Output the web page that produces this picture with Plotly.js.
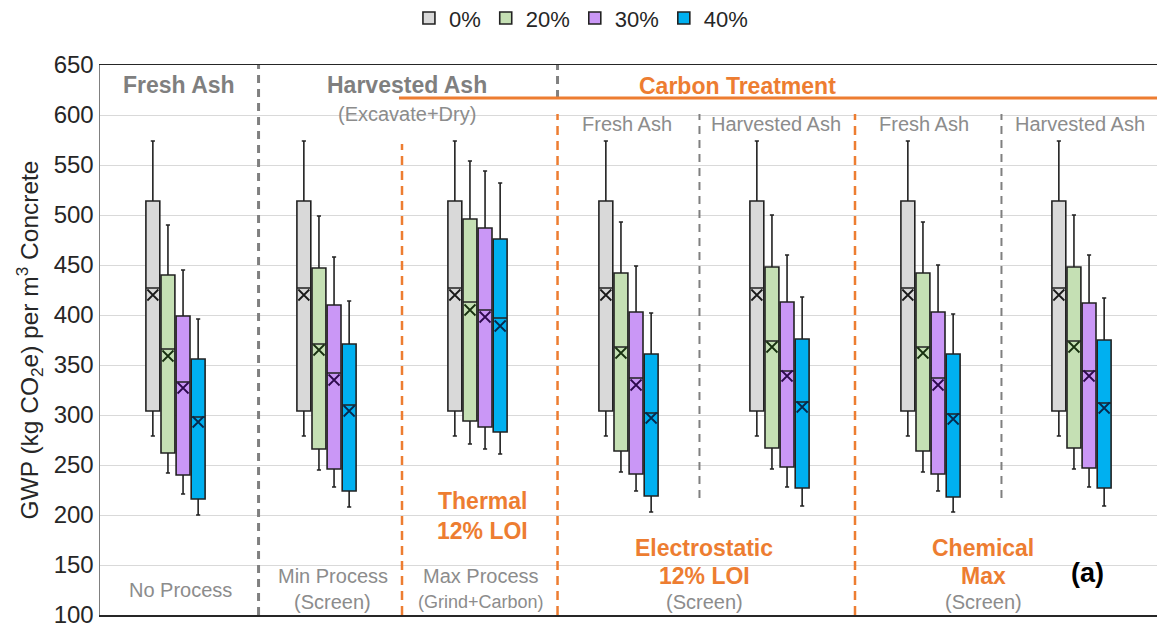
<!DOCTYPE html>
<html>
<head>
<meta charset="utf-8">
<script src="https://cdn.plot.ly/plotly-3.0.1.min.js"></script>
<style>
  html, body { margin: 0; padding: 0; background: #fff; }
  #chart { width: 1160px; height: 625px; }
</style>
</head>
<body>
<div id="chart"></div>
<script>
// ---- Data ----
const groups = ['Fresh Ash / No Process', 'Harvested / Min Process', 'Thermal 12% LOI',
                'Electrostatic Fresh', 'Electrostatic Harvested', 'Chemical Fresh', 'Chemical Harvested'];
const series = ['0%', '20%', '30%', '40%'];

const upper_0  = [574, 574, 574, 574, 574, 574, 574];
const q3_0     = [514, 514, 514, 514, 514, 514, 514];
const median_0 = [427, 427, 427, 427, 427, 427, 427];
const mean_0   = [420, 420, 420, 420, 420, 420, 420];
const q1_0     = [304, 304, 304, 304, 304, 304, 304];
const lower_0  = [279, 279, 279, 279, 279, 279, 279];

const upper_20  = [490, 499, 554, 493, 500, 493, 500];
const q3_20     = [440, 447, 496, 442, 448, 442, 448];
const median_20 = [366, 371, 413, 368, 374, 368, 374];
const mean_20   = [359, 365, 405, 362, 368, 362, 368];
const q1_20     = [262, 266, 294, 264, 267, 264, 267];
const lower_20  = [242, 245, 271, 243, 246, 243, 246];

const upper_30  = [445, 458, 544, 449, 460, 450, 460];
const q3_30     = [399, 410, 487, 403, 413, 403, 412];
const median_30 = [333, 342, 405, 337, 344, 337, 344];
const mean_30   = [327, 335, 398, 330, 339, 330, 339];
const q1_30     = [240, 246, 288, 241, 248, 241, 247];
const lower_30  = [221, 228, 266, 224, 228, 224, 228];

const upper_40  = [396, 414, 532, 402, 418, 401, 417];
const q3_40     = [356, 371, 476, 361, 376, 361, 375];
const median_40 = [298, 310, 397, 302, 313, 301, 312];
const mean_40   = [293, 304, 389, 297, 308, 296, 307];
const q1_40     = [216, 224, 283, 219, 227, 218, 227];
const lower_40  = [200, 208, 261, 203, 209, 203, 209];

const stats = [
  {upper: upper_0,  q3: q3_0,  median: median_0,  mean: mean_0,  q1: q1_0,  lower: lower_0},
  {upper: upper_20, q3: q3_20, median: median_20, mean: mean_20, q1: q1_20, lower: lower_20},
  {upper: upper_30, q3: q3_30, median: median_30, mean: mean_30, q1: q1_30, lower: lower_30},
  {upper: upper_40, q3: q3_40, median: median_40, mean: mean_40, q1: q1_40, lower: lower_40}
];

// ---- Styling ----
const fills = ['#D9D9D9', '#C5E0B4', '#CA97F6', '#00B0F0'];
const xColors = ['#1A1A1A', '#17300F', '#2E0A4E', '#062A4E'];
const outline = '#222222';
const orange = '#ED7D31';
const grayText = '#7F7F7F';
const lightText = '#8C8C8C';
const FONT = 'Liberation Sans, Arial, sans-serif';

const slot = 0.1;
const boxW = 0.092;

const traces = [];
series.forEach((name, s) => {
  const xs = groups.map((g, i) => i + (s - 1.5) * slot);
  const st = stats[s];
  traces.push({
    type: 'box',
    name: name,
    x: xs,
    q1: st.q1, median: st.median, q3: st.q3,
    lowerfence: st.lower, upperfence: st.upper,
    width: boxW,
    whiskerwidth: 0.3,
    fillcolor: fills[s],
    line: {color: outline, width: 1.6},
    boxpoints: false,
    hoverinfo: 'skip'
  });
});
series.forEach((name, s) => {
  const xs = groups.map((g, i) => i + (s - 1.5) * slot);
  traces.push({
    type: 'scatter',
    mode: 'markers',
    x: xs,
    y: stats[s].mean,
    showlegend: false,
    hoverinfo: 'skip',
    marker: {symbol: 'x-thin-open', size: 11, color: xColors[s],
             line: {color: xColors[s], width: 1.8}}
  });
});

function vline(x, y0, y1, color, width, dash) {
  return {type: 'line', xref: 'x', yref: 'y', x0: x, x1: x, y0: y0, y1: y1,
          line: {color: color, width: width, dash: dash || 'dash'}};
}
const shapes = [
  vline(0.55, 100, 650, '#808080', 3, '8px,6px'),
  vline(2.53, 617, 650, '#808080', 3, '8px,6px'),
  vline(1.5, 100, 571, orange, 2.5, '9px,6px'),
  vline(2.53, 100, 601, orange, 2.5, '9px,6px'),
  vline(4.5, 100, 601, orange, 2.5, '9px,6px'),
  vline(3.47, 217, 601, '#808080', 2, '8px,6px'),
  vline(5.47, 217, 601, '#808080', 2, '8px,6px'),
  {type: 'line', xref: 'x', yref: 'y', x0: 1.48, x1: 6.5, y0: 617, y1: 617,
   line: {color: orange, width: 3}}
];

function ann(text, x, y, size, color, bold) {
  return {text: bold ? '<b>' + text + '</b>' : text, x: x, y: y, xref: 'x', yref: 'y',
          showarrow: false, xanchor: 'center', yanchor: 'middle',
          font: {family: FONT, size: size, color: color}};
}
const annotations = [
  ann('Fresh Ash', 0.02, 630, 23, grayText, true),
  ann('Harvested Ash', 1.53, 630, 23, grayText, true),
  ann('(Excavate+Dry)', 1.53, 601, 20, lightText, false),
  ann('Carbon Treatment', 3.72, 629, 23, orange, true),
  ann('Fresh Ash', 2.99, 591, 20, lightText, false),
  ann('Harvested Ash', 3.98, 591, 20, lightText, false),
  ann('Fresh Ash', 4.96, 591, 20, lightText, false),
  ann('Harvested Ash', 5.99, 591, 20, lightText, false),
  ann('Thermal', 2.03, 214, 23, orange, true),
  ann('12% LOI', 2.03, 184, 23, orange, true),
  ann('No Process', 0.03, 125, 20, lightText, false),
  ann('Min Process', 1.04, 139, 20, lightText, false),
  ann('(Screen)', 1.04, 113, 20, lightText, false),
  ann('Max Process', 2.02, 139, 20, lightText, false),
  ann('(Grind+Carbon)', 2.02, 113, 18, lightText, false),
  ann('Electrostatic', 3.5, 167, 23, orange, true),
  ann('12% LOI', 3.5, 139, 23, orange, true),
  ann('(Screen)', 3.5, 113, 20, lightText, false),
  ann('Chemical', 5.35, 167, 23, orange, true),
  ann('Max', 5.35, 139, 23, orange, true),
  ann('(Screen)', 5.35, 113, 20, lightText, false),
  ann('(a)', 6.04, 142, 27, '#000000', true)
];

const layout = {
  width: 1160, height: 625,
  margin: {l: 100, r: 3, t: 65, b: 10, autoexpand: false},
  paper_bgcolor: '#ffffff', plot_bgcolor: '#ffffff',
  font: {family: FONT, color: '#262626'},
  boxmode: 'overlay',
  showlegend: true,
  legend: {orientation: 'h', x: 0.455, xanchor: 'center', y: 1.085, yanchor: 'middle',
           font: {size: 22, color: '#262626'}, itemwidth: 30, tracegroupgap: 0,
           bgcolor: 'rgba(0,0,0,0)'},
  xaxis: {range: [-0.5, 6.5], showticklabels: false, showgrid: false, zeroline: false,
          ticks: '', showline: true, mirror: true, linecolor: '#262626', linewidth: 1.5,
          fixedrange: true},
  yaxis: {range: [100, 650], dtick: 50, tick0: 100, showgrid: true, gridcolor: '#D9D9D9',
          gridwidth: 1, zeroline: false, showline: true, linecolor: '#808080', linewidth: 1.5,
          ticks: '', tickfont: {size: 24, color: '#262626'}, ticklabeloverflow: 'allow',
          title: {text: 'GWP (kg CO<sub>2</sub>e) per m<sup>3</sup> Concrete',
                  font: {size: 24.5, color: '#262626'}, standoff: 8},
          fixedrange: true},
  shapes: shapes,
  annotations: annotations
};

Plotly.newPlot('chart', traces, layout, {displayModeBar: false, staticPlot: true});
</script>
</body>
</html>
